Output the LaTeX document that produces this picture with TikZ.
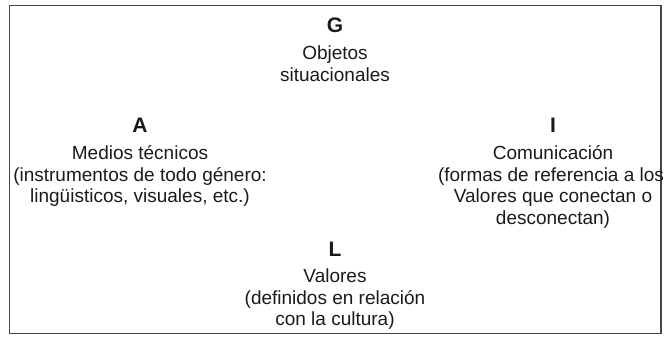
\documentclass[tikz,border=0pt]{standalone}
\usepackage{fontspec}
\setmainfont{Liberation Sans}
\definecolor{txt}{HTML}{1A1A1A}
\definecolor{frame}{HTML}{474747}
\begin{document}
\begin{tikzpicture}[x=1pt,y=-1pt,
  ln/.style={anchor=base,inner sep=0pt,text=txt,font=\fontsize{19}{21}\selectfont},
  ttl/.style={anchor=base,inner sep=0pt,text=txt,font=\fontsize{21}{24}\selectfont\bfseries}]
\useasboundingbox (0,0) rectangle (670,339);
\draw[frame,line width=1.4pt] (9.5,5.5) rectangle (661,333.5);
% G
\node[ttl] (g0) at (335,33) {G};
\node[ln] (g1) at (335,60) {Objetos};
\node[ln] (g2) at (335,82) {situacionales};
% A
\node[ttl] (a0) at (140,133) {A};
\node[ln] (a1) at (140,160) {Medios técnicos};
\node[ln] (a2) at (140,181.5) {(instrumentos de todo género:};
\node[ln] (a3) at (140,203) {lingüisticos, visuales, etc.)};
% I
\node[ttl] (i0) at (553,133) {I};
\node[ln] (i1) at (553,160) {Comunicación};
\node[ln] (i2) at (551,181.5) {(formas de referencia a los};
\node[ln] (i3) at (553,203) {Valores que conectan o};
\node[ln] (i4) at (553,224.5) {desconectan)};
% L
\node[ttl] (l0) at (335,257) {L};
\node[ln] (l1) at (335,283) {Valores};
\node[ln] (l2) at (335,304.5) {(definidos en relación};
\node[ln] (l3) at (335,326) {con la cultura)};
\end{tikzpicture}
\end{document}
